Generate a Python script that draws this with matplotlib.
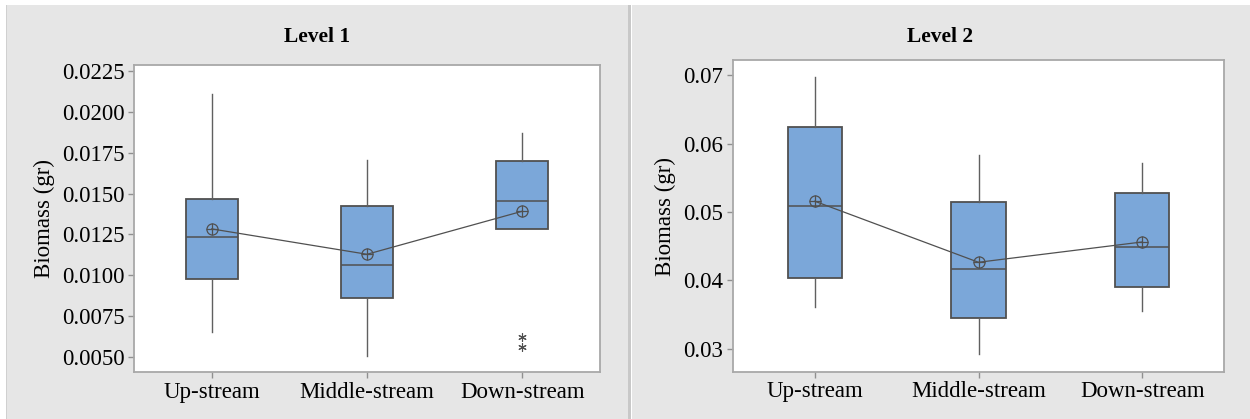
import matplotlib.pyplot as plt
from matplotlib.patches import Rectangle

plt.rcParams['font.family'] = ['Liberation Serif', 'DejaVu Serif']

# site categories
sites = ['Up-stream', 'Middle-stream', 'Down-stream']

# Level 1 box statistics
l1_whislo = [0.00657, 0.00510, 0.01284]
l1_q1 = [0.00978, 0.00860, 0.01284]
l1_med = [0.01233, 0.01064, 0.01453]
l1_q3 = [0.01467, 0.01426, 0.01701]
l1_whishi = [0.02106, 0.01705, 0.01868]
l1_mean = [0.01284, 0.01129, 0.01392]
l1_fliers = [[], [], [0.00622, 0.00565]]
l1_ticks = [0.0050, 0.0075, 0.0100, 0.0125, 0.0150, 0.0175, 0.0200, 0.0225]

# Level 2 box statistics
l2_whislo = [0.03606, 0.02918, 0.03552]
l2_q1 = [0.04030, 0.03445, 0.03907]
l2_med = [0.05083, 0.04162, 0.04484]
l2_q3 = [0.06239, 0.05142, 0.05283]
l2_whishi = [0.06975, 0.05834, 0.05712]
l2_mean = [0.05157, 0.04264, 0.04561]
l2_fliers = [[], [], []]
l2_ticks = [0.03, 0.04, 0.05, 0.06, 0.07]

BLUE = '#7ba7d9'
EDGE = '#505050'
PANEL = '#e6e6e6'

fig = plt.figure(figsize=(12.5, 4.19), dpi=100)

# grey panel backgrounds and divider
W, H = 1250, 419
fig.patches.append(Rectangle((7 / W, 0), (629 - 7) / W, (H - 5) / H, transform=fig.transFigure,
                             facecolor=PANEL, edgecolor='none', zorder=-10))
fig.patches.append(Rectangle((632 / W, 0), (W - 632) / W, (H - 5) / H, transform=fig.transFigure,
                             facecolor=PANEL, edgecolor='none', zorder=-10))
fig.patches.append(Rectangle((628 / W, 0), 3 / W, (H - 5) / H, transform=fig.transFigure,
                             facecolor='#c8c8c8', edgecolor='none', zorder=-10))
fig.patches.append(Rectangle((6 / W, 0), 1.5 / W, (H - 5) / H, transform=fig.transFigure,
                             facecolor='#d0d0d0', edgecolor='none', zorder=-10))


def draw_panel(rect, whislo, q1, med, q3, whishi, mean, fliers, ticks, fmt, ylim, width):
    ax = fig.add_axes(rect)
    stats = []
    for i in range(len(sites)):
        stats.append({'whislo': whislo[i], 'q1': q1[i], 'med': med[i], 'q3': q3[i],
                      'whishi': whishi[i], 'fliers': fliers[i], 'label': sites[i]})
    ax.bxp(stats, positions=[1, 2, 3], widths=width, showcaps=False, patch_artist=True,
           boxprops=dict(facecolor=BLUE, edgecolor=EDGE, linewidth=1.3),
           medianprops=dict(color=EDGE, linewidth=1.1),
           whiskerprops=dict(color='#606060', linewidth=1.0),
           flierprops=dict(marker=(6, 2, 0), markersize=6, markeredgecolor='#505050',
                           markeredgewidth=0.8, linestyle='none'))
    ax.plot([1, 2, 3], mean, color='#505050', linewidth=0.9, zorder=4)
    ax.plot([1, 2, 3], mean, linestyle='none', marker='o', markersize=8,
            markerfacecolor='none', markeredgecolor='#505050', markeredgewidth=0.9, zorder=5)
    ax.plot([1, 2, 3], mean, linestyle='none', marker='+', markersize=8,
            markeredgecolor='#505050', markeredgewidth=0.9, zorder=5)
    ax.set_xlim(0.5, 3.5)
    ax.set_ylim(*ylim)
    ax.set_yticks(ticks)
    ax.set_yticklabels([fmt % t for t in ticks])
    ax.set_xticks([1, 2, 3])
    ax.set_xticklabels(sites)
    ax.set_ylabel('Biomass (gr)', fontsize=16.5, labelpad=5)
    ax.tick_params(labelsize=16.5, color='#909090', length=4, width=1, pad=3)
    for s in ax.spines.values():
        s.set_color('#a8a8a8')
        s.set_linewidth(1.3)
    return ax


draw_panel([134 / W, 47 / H, 466 / W, 307 / H], l1_whislo, l1_q1, l1_med, l1_q3, l1_whishi,
           l1_mean, l1_fliers, l1_ticks, '%.4f', (0.00410, 0.02285), 0.335)
draw_panel([733 / W, 47.3 / H, 491 / W, 311.4 / H], l2_whislo, l2_q1, l2_med, l2_q3, l2_whishi,
           l2_mean, l2_fliers, l2_ticks, '%.2f', (0.02663, 0.07219), 0.33)

fig.text(317 / W, 1 - 37 / H, 'Level 1', ha='center', va='center', fontsize=15.5, fontweight='bold')
fig.text(940 / W, 1 - 37 / H, 'Level 2', ha='center', va='center', fontsize=15.5, fontweight='bold')

fig.savefig('out.png', dpi=100, facecolor='white')
